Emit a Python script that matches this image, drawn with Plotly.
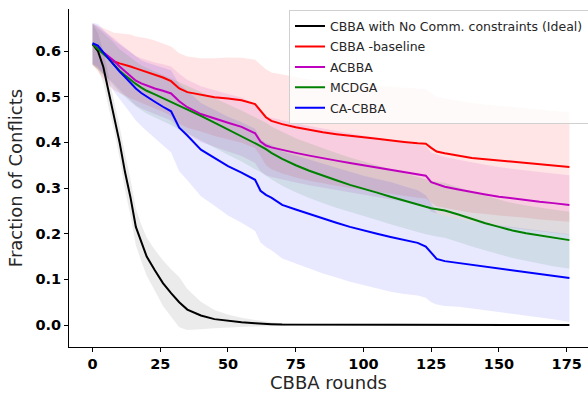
import numpy as np
import plotly.graph_objects as go

rounds = [0, 2, 4, 6, 8, 10, 12, 14, 16, 18, 20, 23, 26, 29, 32, 35, 40, 45, 50, 55,
          60, 62, 64, 66, 70, 75, 80, 85, 90, 95, 100, 105, 110, 115, 120, 123, 125, 127, 130, 135,
          140, 145, 150, 155, 160, 165, 170, 176]

series_names = ["CBBA with No Comm. constraints (Ideal)", "CBBA -baseline", "ACBBA", "MCDGA", "CA-CBBA"]

ideal = [0.615, 0.600, 0.565, 0.510, 0.460, 0.400, 0.335, 0.280, 0.215, 0.180,
         0.150, 0.120, 0.092, 0.070, 0.050, 0.034, 0.021, 0.013, 0.009, 0.006,
         0.004, 0.003, 0.003, 0.002, 0.001, 0.001, 0.0, 0.0, 0.0, 0.0,
         0.0, 0.0, 0.0, 0.0, 0.0, 0.0, 0.0, 0.0, 0.0, 0.0,
         0.0, 0.0, 0.0, 0.0, 0.0, 0.0, 0.0, 0.0]
ideal_std = [0.045, 0.040, 0.035, 0.035, 0.035, 0.035, 0.040, 0.040, 0.040, 0.040,
             0.042, 0.045, 0.050, 0.052, 0.055, 0.045, 0.030, 0.020, 0.014, 0.010,
             0.007, 0.006, 0.005, 0.004, 0.003, 0.002, 0.001, 0.0, 0.0, 0.0,
             0.0, 0.0, 0.0, 0.0, 0.0, 0.0, 0.0, 0.0, 0.0, 0.0,
             0.0, 0.0, 0.0, 0.0, 0.0, 0.0, 0.0, 0.0]

baseline = [0.615, 0.605, 0.595, 0.585, 0.577, 0.573, 0.570, 0.566, 0.562, 0.558,
            0.555, 0.549, 0.542, 0.534, 0.518, 0.510, 0.504, 0.499, 0.496, 0.492,
            0.484, 0.470, 0.455, 0.447, 0.440, 0.433, 0.427, 0.422, 0.418, 0.414,
            0.411, 0.408, 0.404, 0.401, 0.398, 0.397, 0.388, 0.380, 0.376, 0.371,
            0.366, 0.363, 0.360, 0.357, 0.355, 0.351, 0.348, 0.346]
baseline_std = [0.045, 0.050, 0.055, 0.060, 0.063, 0.066, 0.068, 0.070, 0.070, 0.072,
                0.073, 0.074, 0.075, 0.076, 0.077, 0.078, 0.080, 0.085, 0.090, 0.093,
                0.097, 0.100, 0.105, 0.106, 0.108, 0.110, 0.111, 0.112, 0.113, 0.114,
                0.115, 0.116, 0.117, 0.118, 0.119, 0.120, 0.120, 0.120, 0.120, 0.120,
                0.120, 0.120, 0.120, 0.120, 0.120, 0.120, 0.120, 0.120]

acbba = [0.615, 0.607, 0.597, 0.588, 0.578, 0.566, 0.555, 0.545, 0.535, 0.529,
         0.524, 0.518, 0.513, 0.507, 0.490, 0.477, 0.462, 0.452, 0.443, 0.434,
         0.420, 0.402, 0.393, 0.389, 0.383, 0.377, 0.371, 0.365, 0.360, 0.355,
         0.350, 0.345, 0.340, 0.335, 0.331, 0.327, 0.313, 0.309, 0.303, 0.297,
         0.291, 0.286, 0.281, 0.277, 0.273, 0.270, 0.267, 0.263]
acbba_std = [0.045, 0.046, 0.047, 0.048, 0.050, 0.051, 0.052, 0.053, 0.054, 0.055,
             0.056, 0.057, 0.058, 0.059, 0.060, 0.060, 0.061, 0.062, 0.063, 0.064,
             0.065, 0.065, 0.065, 0.065, 0.065, 0.065, 0.065, 0.065, 0.065, 0.065,
             0.065, 0.065, 0.065, 0.065, 0.065, 0.065, 0.065, 0.065, 0.065, 0.065,
             0.065, 0.065, 0.065, 0.065, 0.065, 0.065, 0.065, 0.065]

mcdga = [0.615, 0.605, 0.594, 0.583, 0.570, 0.557, 0.547, 0.537, 0.528, 0.520,
         0.513, 0.505, 0.497, 0.489, 0.480, 0.472, 0.458, 0.443, 0.428, 0.414,
         0.398, 0.392, 0.385, 0.377, 0.364, 0.350, 0.338, 0.327, 0.317, 0.307,
         0.299, 0.290, 0.281, 0.272, 0.264, 0.259, 0.256, 0.254, 0.251, 0.242,
         0.232, 0.223, 0.215, 0.207, 0.201, 0.196, 0.191, 0.186]
mcdga_std = [0.045, 0.045, 0.046, 0.046, 0.047, 0.047, 0.048, 0.048, 0.049, 0.049,
             0.050, 0.050, 0.051, 0.051, 0.052, 0.052, 0.053, 0.054, 0.055, 0.056,
             0.057, 0.057, 0.058, 0.058, 0.059, 0.059, 0.060, 0.060, 0.060, 0.060,
             0.060, 0.060, 0.060, 0.060, 0.060, 0.060, 0.060, 0.060, 0.060, 0.060,
             0.060, 0.060, 0.060, 0.060, 0.061, 0.061, 0.062, 0.062]

cacbba = [0.617, 0.612, 0.597, 0.583, 0.567, 0.555, 0.543, 0.530, 0.518, 0.508,
          0.500, 0.489, 0.478, 0.468, 0.432, 0.415, 0.384, 0.366, 0.348, 0.334,
          0.318, 0.294, 0.285, 0.279, 0.263, 0.253, 0.243, 0.233, 0.224, 0.215,
          0.207, 0.200, 0.193, 0.186, 0.180, 0.172, 0.158, 0.145, 0.140, 0.136,
          0.131, 0.127, 0.123, 0.120, 0.116, 0.112, 0.108, 0.103]
cacbba_std = [0.045, 0.047, 0.050, 0.053, 0.056, 0.060, 0.063, 0.066, 0.070, 0.072,
              0.075, 0.080, 0.085, 0.090, 0.095, 0.098, 0.102, 0.105, 0.108, 0.110,
              0.112, 0.113, 0.114, 0.115, 0.117, 0.118, 0.119, 0.120, 0.120, 0.120,
              0.120, 0.120, 0.120, 0.118, 0.115, 0.112, 0.108, 0.100, 0.098, 0.096,
              0.095, 0.095, 0.095, 0.095, 0.095, 0.095, 0.095, 0.096]

x_ticks = [0, 25, 50, 75, 100, 125, 150, 175]
y_ticks = [0.0, 0.1, 0.2, 0.3, 0.4, 0.5, 0.6]

means = [ideal, baseline, acbba, mcdga, cacbba]
stds = [ideal_std, baseline_std, acbba_std, mcdga_std, cacbba_std]
colors = ["#000000", "#ff0000", "#bf00bf", "#008000", "#0000ff"]
fills = ["rgba(0,0,0,0.08)", "rgba(255,0,0,0.10)", "rgba(191,0,191,0.10)",
         "rgba(0,128,0,0.10)", "rgba(0,0,255,0.09)"]

fig = go.Figure()
r = np.array(rounds, dtype=float)
for m, s, fc in zip(means, stds, fills):
    m = np.array(m); s = np.array(s)
    up = m + s
    lo = m - s
    fig.add_trace(go.Scatter(
        x=np.concatenate([r, r[::-1]]), y=np.concatenate([up, lo[::-1]]),
        fill="toself", fillcolor=fc, line=dict(width=0), mode="lines",
        hoverinfo="skip", showlegend=False))

for i, (name, m, c) in enumerate(zip(series_names, means, colors)):
    fig.add_trace(go.Scatter(x=rounds, y=m, mode="lines", name=name, legendgroup=f"g{i}",
                             line=dict(color=c, width=2)))

font_family = "DejaVu Sans"
fig.update_layout(
    width=588, height=395,
    margin=dict(l=69, r=0, t=9, b=48, autoexpand=False),
    paper_bgcolor="white", plot_bgcolor="white",
    font=dict(family=font_family, color="#262626"),
    showlegend=True,
    legend=dict(x=0.4239, y=0.996, xanchor="left", yanchor="top",
                bgcolor="rgba(255,255,255,0.8)", bordercolor="#d0d0d0", borderwidth=1,
                font=dict(family=font_family, size=12.5, color="#262626"),
                traceorder="grouped", tracegroupgap=1.2, itemwidth=30),
    xaxis=dict(range=[-8.67, 182.86], tickvals=x_ticks, ticktext=[str(v) for v in x_ticks],
               automargin=False,
               showgrid=False, zeroline=False, showline=True, linecolor="black", linewidth=1,
               ticks="outside", ticklen=4, tickcolor="black",
               tickfont=dict(family=font_family, size=14.5, color="black", weight="bold"),
               title=dict(text="CBBA rounds", font=dict(family=font_family, size=18, color="#262626"),
                          standoff=4)),
    yaxis=dict(range=[-0.048, 0.692], tickvals=y_ticks, ticktext=[f"{v:.1f}" for v in y_ticks],
               automargin=False,
               showgrid=False, zeroline=False, showline=True, linecolor="black", linewidth=1,
               ticks="outside", ticklen=4, tickcolor="black",
               tickfont=dict(family=font_family, size=14.5, color="black", weight="bold"),
               title=dict(text="Fraction of Conflicts", font=dict(family=font_family, size=18, color="#262626"),
                          standoff=8)),
)

fig.write_html("out.html", config={"displayModeBar": False},
               post_script="document.body.style.margin='0px';")
